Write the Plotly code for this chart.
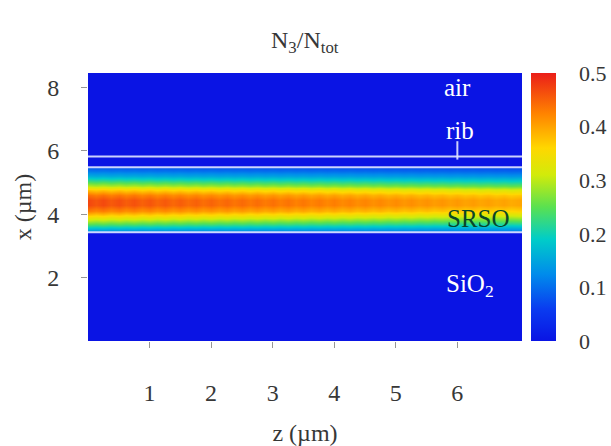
import plotly.graph_objects as go

# ---- data ----
z_um = [0.0, 0.125, 0.25, 0.375, 0.5, 0.625, 0.75, 0.875, 1.0, 1.125, 1.25, 1.375,
        1.5, 1.625, 1.75, 1.875, 2.0, 2.125, 2.25, 2.375, 2.5, 2.625, 2.75, 2.875,
        3.0, 3.125, 3.25, 3.375, 3.5, 3.625, 3.75, 3.875, 4.0, 4.125, 4.25, 4.375,
        4.5, 4.625, 4.75, 4.875, 5.0, 5.125, 5.25, 5.375, 5.5, 5.625, 5.75, 5.875,
        6.0, 6.125, 6.25, 6.375, 6.5, 6.625, 6.75, 6.875, 7.0, 7.1]
# relative peak amplitude along z (with the slight ripple seen in the map)
amp_z = [1.000, 0.975, 0.995, 0.968, 0.988, 0.962, 0.982, 0.956, 0.976, 0.950, 0.970, 0.945,
         0.964, 0.940, 0.958, 0.935, 0.953, 0.930, 0.948, 0.925, 0.943, 0.920, 0.938, 0.915,
         0.933, 0.910, 0.928, 0.905, 0.922, 0.900, 0.917, 0.895, 0.912, 0.890, 0.906, 0.885,
         0.900, 0.880, 0.895, 0.875, 0.889, 0.870, 0.884, 0.865, 0.878, 0.860, 0.873, 0.855,
         0.868, 0.850, 0.862, 0.845, 0.857, 0.840, 0.852, 0.836, 0.846, 0.840]
# transverse profile N3/Ntot at z = 0 (x in um)
x_um = [0.0, 3.42, 3.43, 3.5, 3.7, 3.9, 4.1, 4.3, 4.45, 4.6, 4.75, 4.9, 5.05, 5.2, 5.35, 5.48, 5.49, 8.5]
prof_x = [0.0, 0.0, 0.10, 0.15, 0.25, 0.35, 0.43, 0.47, 0.47, 0.44, 0.38, 0.30, 0.23, 0.16, 0.11, 0.08, 0.0, 0.0]

layer_lines = [3.43, 5.48, 5.82]
labels = [("air", 6.0, 8.0, "white"), ("rib", 6.05, 6.65, "white"),
          ("SRSO", 6.35, 3.85, "rgb(10,70,40)"), ("SiO<sub>2</sub>", 6.2, 1.75, "white")]
cbar_ticks = [0, 0.1, 0.2, 0.3, 0.4, 0.5]
cbar_text = ["0", "0.1", "0.2", "0.3", "0.4", "0.5"]
x_ticks = [1, 2, 3, 4, 5, 6]
y_ticks = [2, 4, 6, 8]

# build the grid from the two profiles
grid = [[p * a for a in amp_z] for p in prof_x]

colorscale = [[0, 'rgb(10,20,228)'], [0.12, 'rgb(10,60,240)'], [0.25, 'rgb(0,140,235)'],
              [0.38, 'rgb(0,205,200)'], [0.5, 'rgb(90,225,80)'], [0.62, 'rgb(210,235,10)'],
              [0.72, 'rgb(255,215,0)'], [0.85, 'rgb(255,130,0)'], [1, 'rgb(235,30,25)']]

font = "Liberation Serif"
txtcol = 'rgb(55,55,55)'
W, H = 611, 446
L, R, T, B = 88, 89, 73, 105
pw = W - L - R
cb_x0 = (531 - L) / pw
cb_th = 25

fig = go.Figure(go.Heatmap(
    x=z_um, y=x_um, z=grid, zmin=0, zmax=0.5, zsmooth='best',
    colorscale=colorscale,
    colorbar=dict(x=cb_x0, xanchor='left', xpad=0, ypad=0, thickness=cb_th, len=1,
                  y=0.5, yanchor='middle',
                  outlinewidth=0, tickvals=cbar_ticks, ticktext=cbar_text,
                  ticks='outside', ticklen=19, tickcolor='rgba(0,0,0,0)',
                  tickfont=dict(family=font, size=22, color=txtcol))))

# small inside ticks on the colour bar
for v in cbar_ticks[1:-1]:
    fig.add_shape(type='line', xref='paper', yref='paper',
                  x0=cb_x0 + (cb_th - 4) / pw, x1=cb_x0 + cb_th / pw, y0=v / 0.5, y1=v / 0.5,
                  line=dict(color='rgba(90,90,90,0.7)', width=1))

for yl in layer_lines:
    fig.add_shape(type='line', xref='x', yref='y', x0=0, x1=7.05, y0=yl, y1=yl,
                  line=dict(color='rgba(225,230,255,0.9)', width=2))
fig.add_shape(type='line', xref='x', yref='y', x0=6.0, x1=6.0, y0=5.72, y1=6.3,
              line=dict(color='rgba(225,230,255,0.9)', width=2))

for txt, zx, xx, col in labels:
    fig.add_annotation(x=zx, y=xx, xref='x', yref='y', text=txt, showarrow=False,
                       font=dict(family=font, size=25, color=col))

fig.add_annotation(x=0.5, y=1 + (T - 42) / (H - T - B), xref='paper', yref='paper',
                   yanchor='middle', text="N<sub>3</sub>/N<sub>tot</sub>", showarrow=False,
                   font=dict(family=font, size=24, color=txtcol))

fig.update_layout(
    width=W, height=H, margin=dict(l=L, r=R, t=T, b=B, autoexpand=False),
    paper_bgcolor='white', plot_bgcolor='white',
    xaxis=dict(range=[0, 7.05], tickvals=x_ticks, ticks='outside', ticklen=6,
               tickcolor='rgb(150,150,150)', showgrid=False, zeroline=False,
               ticklabelstandoff=24, automargin=False,
               tickfont=dict(family=font, size=24, color=txtcol),
               title=dict(text="z (µm)", standoff=30,
                          font=dict(family=font, size=24, color=txtcol))),
    yaxis=dict(range=[0, 8.45], tickvals=y_ticks, ticks='outside', ticklen=6,
               tickcolor='rgb(150,150,150)', showgrid=False, zeroline=False,
               ticklabelstandoff=17, automargin=False,
               tickfont=dict(family=font, size=24, color=txtcol),
               title=dict(text="x (µm)", standoff=8,
                          font=dict(family=font, size=24, color=txtcol))),
)

fig.write_html("out.html", config={"displayModeBar": False},
               post_script="document.body.style.margin='0';")
